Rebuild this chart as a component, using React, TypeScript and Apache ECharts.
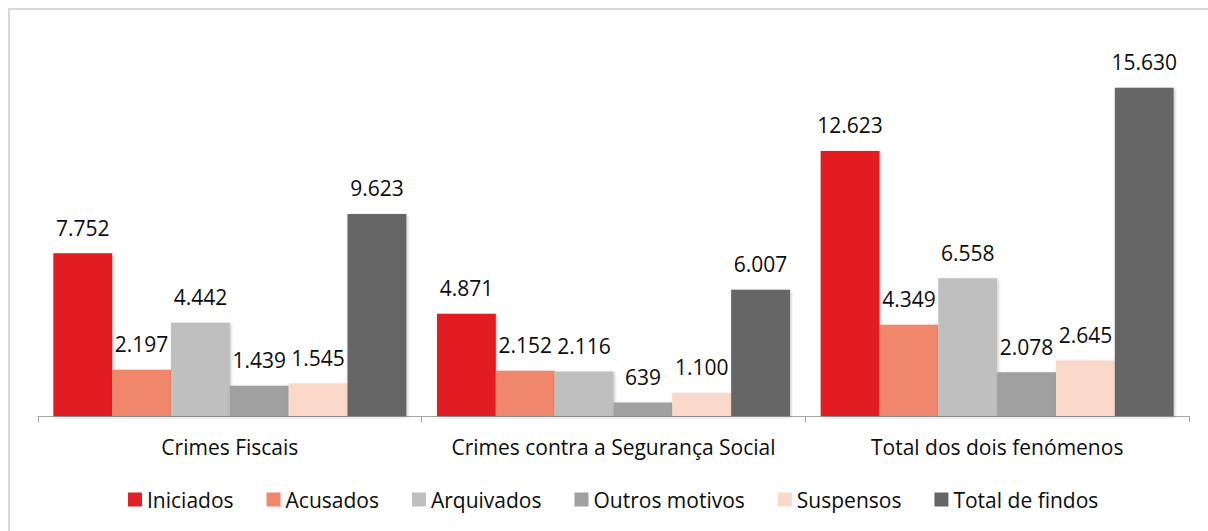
import React, { useEffect, useRef } from "react";
import * as echarts from "echarts";

const categories = ["Crimes Fiscais", "Crimes contra a Segurança Social", "Total dos dois fenómenos"];
const seriesNames = ["Iniciados", "Acusados", "Arquivados", "Outros motivos", "Suspensos", "Total de findos"];
const iniciados = [7752, 4871, 12623];
const acusados = [2197, 2152, 4349];
const arquivados = [4442, 2116, 6558];
const outros = [1439, 639, 2078];
const suspensos = [1545, 1100, 2645];
const totalFindos = [9623, 6007, 15630];
const seriesData = [iniciados, acusados, arquivados, outros, suspensos, totalFindos];
const colors = ["#E31E24", "#F0866A", "#BFBFBF", "#A0A0A0", "#FAD8CA", "#666666"];

const fmt = (v: number) => String(v).replace(/\B(?=(\d{3})+(?!\d))/g, ".");

export default function App() {
  const ref = useRef<HTMLDivElement>(null);
  useEffect(() => {
    document.body.style.margin = "0";
    const chart = echarts.init(ref.current!, null, { renderer: "svg" });
    const font = "'Open Sans', 'Noto Sans', sans-serif";
    const txt = "#0d0d0d";
    chart.setOption({
      animation: false,
      textStyle: { fontFamily: font },
      grid: { left: 38, right: 19, top: 80, bottom: 115 },
      legend: {
        bottom: 16,
        left: 123,
        itemWidth: 14,
        itemHeight: 14,
        itemGap: 33,
        icon: "rect",
        textStyle: { fontSize: 21, color: txt, fontFamily: font },
        data: seriesNames,
      },
      xAxis: {
        type: "category",
        data: categories,
        axisLine: { lineStyle: { color: "#a6a6a6", width: 1 } },
        axisTick: { show: true, length: 6, lineStyle: { color: "#a6a6a6" } },
        axisLabel: { fontSize: 21, color: txt, margin: 20, fontFamily: font, interval: 0 },
      },
      yAxis: {
        type: "value",
        min: 0,
        max: 16000,
        show: false,
        splitLine: { show: false },
      },
      series: seriesNames.map((name, i) => ({
        name,
        type: "bar",
        data: seriesData[i],
        barGap: "0%",
        barCategoryGap: "8%",
        itemStyle: {
          color: colors[i],
          shadowColor: "rgba(0,0,0,0.25)",
          shadowBlur: 3,
          shadowOffsetX: 1,
          shadowOffsetY: 1,
        },
        label: {
          show: true,
          position: "top",
          distance: 15,
          fontSize: 21,
          color: txt,
          fontFamily: font,
          formatter: (p: any) => fmt(p.value),
        },
      })),
    });
    return () => chart.dispose();
  }, []);
  return (
    <div style={{ position: "relative", width: 1208, height: 531, background: "#fff", overflow: "hidden" }}>
      <div
        style={{
          position: "absolute",
          left: 8,
          top: 8,
          width: 1260,
          height: 600,
          border: "2px solid #d9d9d9",
          boxSizing: "border-box",
        }}
      />
      <div ref={ref} style={{ position: "absolute", left: 0, top: 0, width: 1208, height: 531 }} />
    </div>
  );
}
